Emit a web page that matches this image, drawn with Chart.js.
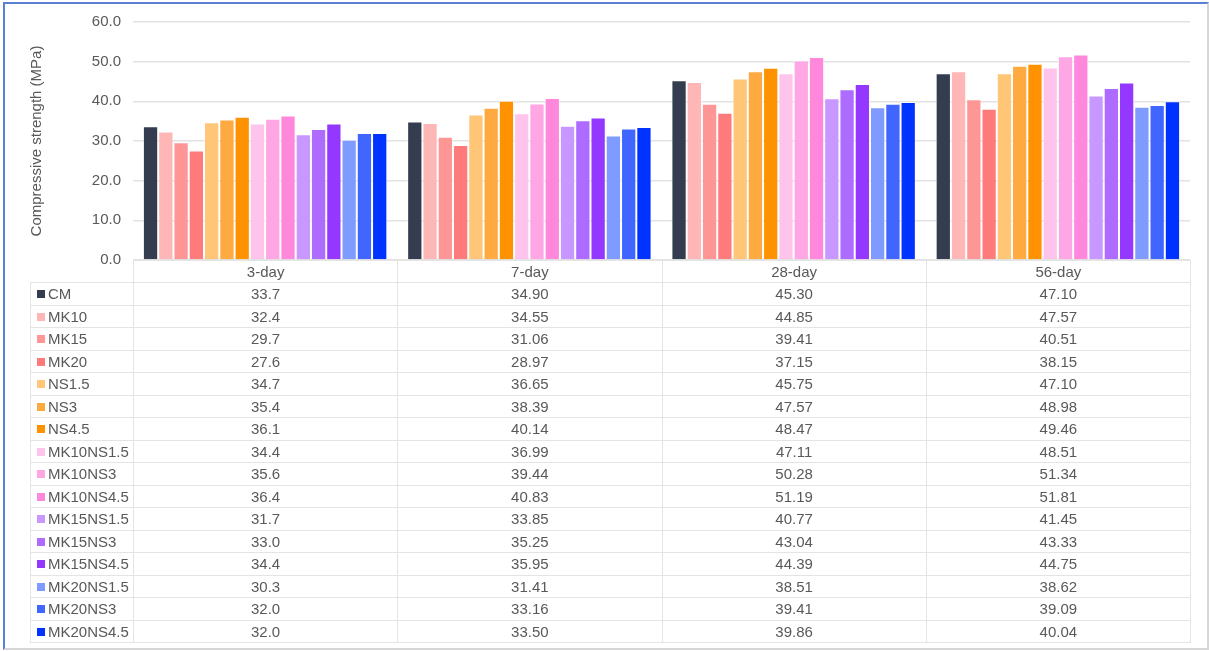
<!DOCTYPE html>
<html>
<head>
<meta charset="utf-8">
<script src="https://cdn.jsdelivr.net/npm/chart.js@4/dist/chart.umd.min.js"></script>
<style>
  html, body { margin: 0; padding: 0; background: #fff; }
  body { width: 1209px; height: 651px; position: relative; overflow: hidden;
         font-family: "Liberation Sans", Arial, Helvetica, sans-serif; }
  #frame { position: absolute; left: 3px; top: 2px; width: 1202px; height: 644px;
           border-top: 2px solid #5b80d3; border-left: 2px solid #5b80d3;
           border-right: 2px solid #d6d6d6; border-bottom: 2px solid #d6d6d6; }
  #plot { position: absolute; left: 0; top: 0; width: 1209px; height: 281px; }
  #tbl { position: absolute; left: 30px; top: 260px; border-collapse: collapse;
         table-layout: fixed; color: #595959; font-size: 15px; }
  #tbl td { border: 1.5px solid #e4e4e4; padding: 0; height: 21.5px; text-align: center;
            white-space: nowrap; overflow: hidden; }
  #tbl tr.hdr td { height: 21px; }
  #tbl tr.hdr td.corner { border-top: hidden; border-left: hidden; }
  #tbl td.lab { text-align: left; padding-left: 6px; }
  #tbl .sw { display: inline-block; width: 8px; height: 8px; margin-right: 3px; vertical-align: 1px; }
</style>
</head>
<body>
<div id="frame"></div>
<div id="plot"><canvas id="c"></canvas></div>
<table id="tbl"></table>
<script>
// Curing ages (categories) and the decimals used when printing each column
const ages = ["3-day", "7-day", "28-day", "56-day"];
const ageDecimals = [1, 2, 2, 2];

// Mix names and colours
const mixes = ["CM", "MK10", "MK15", "MK20", "NS1.5", "NS3", "NS4.5",
  "MK10NS1.5", "MK10NS3", "MK10NS4.5", "MK15NS1.5", "MK15NS3", "MK15NS4.5",
  "MK20NS1.5", "MK20NS3", "MK20NS4.5"];
const mixColors = ["#333d4f", "#ffb6b6", "#ff9696", "#ff7b7b", "#ffc678", "#ffaa40", "#ff9200",
  "#ffc4ec", "#ffa6e4", "#ff88dc", "#c897ff", "#ad6bff", "#9438ff",
  "#7f9bff", "#4066ff", "#0033ff"];

// Compressive strength (MPa) per mix, in age order
const CM        = [33.7, 34.90, 45.30, 47.10];
const MK10      = [32.4, 34.55, 44.85, 47.57];
const MK15      = [29.7, 31.06, 39.41, 40.51];
const MK20      = [27.6, 28.97, 37.15, 38.15];
const NS1_5     = [34.7, 36.65, 45.75, 47.10];
const NS3       = [35.4, 38.39, 47.57, 48.98];
const NS4_5     = [36.1, 40.14, 48.47, 49.46];
const MK10NS1_5 = [34.4, 36.99, 47.11, 48.51];
const MK10NS3   = [35.6, 39.44, 50.28, 51.34];
const MK10NS4_5 = [36.4, 40.83, 51.19, 51.81];
const MK15NS1_5 = [31.7, 33.85, 40.77, 41.45];
const MK15NS3   = [33.0, 35.25, 43.04, 43.33];
const MK15NS4_5 = [34.4, 35.95, 44.39, 44.75];
const MK20NS1_5 = [30.3, 31.41, 38.51, 38.62];
const MK20NS3   = [32.0, 33.16, 39.41, 39.09];
const MK20NS4_5 = [32.0, 33.50, 39.86, 40.04];

const series = [CM, MK10, MK15, MK20, NS1_5, NS3, NS4_5, MK10NS1_5, MK10NS3, MK10NS4_5,
  MK15NS1_5, MK15NS3, MK15NS4_5, MK20NS1_5, MK20NS3, MK20NS4_5];

// Y-axis range
const yMin = 0, yMax = 60, yStep = 10;

const FONT = '"Liberation Sans", Arial, Helvetica, sans-serif';
const GREY = '#595959';

// Build the data table under the plot
const tbl = document.getElementById('tbl');
const colgroup = document.createElement('colgroup');
for (let i = 0; i <= ages.length; i++) colgroup.appendChild(document.createElement('col'));
tbl.appendChild(colgroup);
const hdr = document.createElement('tr');
hdr.className = 'hdr';
const corner = document.createElement('td');
corner.className = 'corner';
hdr.appendChild(corner);
ages.forEach(a => { const td = document.createElement('td'); td.textContent = a; hdr.appendChild(td); });
tbl.appendChild(hdr);
mixes.forEach((m, i) => {
  const tr = document.createElement('tr');
  const lab = document.createElement('td');
  lab.className = 'lab';
  const sw = document.createElement('span');
  sw.className = 'sw';
  sw.style.background = mixColors[i];
  lab.appendChild(sw);
  lab.appendChild(document.createTextNode(m));
  tr.appendChild(lab);
  series[i].forEach((v, j) => {
    const td = document.createElement('td');
    td.textContent = v.toFixed(ageDecimals[j]);
    tr.appendChild(td);
  });
  tbl.appendChild(tr);
});

// Keep table columns aligned with the category bands of the chart
const alignTable = {
  id: 'alignTable',
  afterLayout(chart) {
    const a = chart.chartArea;
    const cols = colgroup.children;
    const tableLeft = 30;
    tbl.style.left = tableLeft + 'px';
    tbl.style.top = a.bottom + 'px';
    cols[0].style.width = (a.left - tableLeft) + 'px';
    const w = (a.right - a.left) / ages.length;
    for (let i = 1; i < cols.length; i++) cols[i].style.width = w + 'px';
    tbl.style.width = (a.right - tableLeft) + 'px';
  }
};

new Chart(document.getElementById('c'), {
  type: 'bar',
  data: {
    labels: ages,
    datasets: mixes.map((m, i) => ({
      label: m,
      data: series[i],
      backgroundColor: mixColors[i],
      borderColor: 'rgba(255,255,255,0.55)',
      borderWidth: 1,
      barPercentage: 1.0,
      categoryPercentage: 0.925
    }))
  },
  options: {
    responsive: true,
    maintainAspectRatio: false,
    animation: false,
    layout: { padding: { left: 0, right: 19, top: 22, bottom: 15 } },
    plugins: { legend: { display: false }, tooltip: { enabled: false } },
    scales: {
      x: { display: false },
      y: {
        min: yMin, max: yMax,
        border: { display: false },
        grid: { color: '#e2e2e2', lineWidth: 1.5, drawTicks: false },
        ticks: {
          stepSize: yStep, padding: 12, color: GREY,
          font: { family: FONT, size: 15 },
          callback: v => Number(v).toFixed(1)
        },
        title: {
          display: true, text: 'Compressive strength (MPa)', color: GREY,
          font: { family: FONT, size: 15 }, padding: { top: 28, bottom: 0 }
        },
        afterFit(s) { s.width = 133; }
      }
    }
  },
  plugins: [alignTable]
});
</script>
</body>
</html>
